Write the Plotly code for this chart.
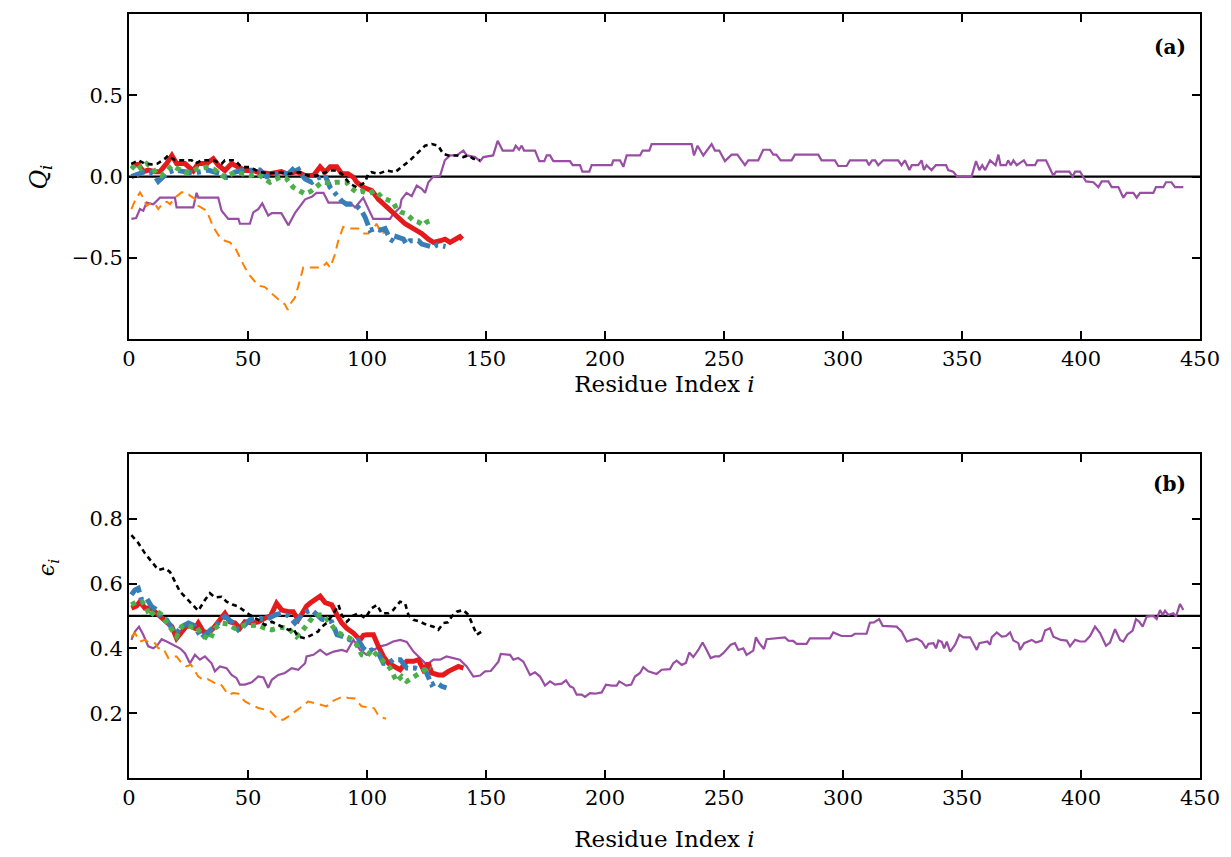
import plotly.graph_objects as go

# ---------------- data: (residue index, value) ----------------
q_red = [(1,0.07),(4,0.075),(6,0.03),(8,0.04),(11,0.03),(13,0.03),(15.8,0.08),(18,0.13),(20,0.08),(23.5,0.08),(27,0.035),(29,0.08),(32.6,0.08),(35.4,0.11),(37.5,0.07),(40.3,0.037),(43.1,0.08),(45.9,0.06),(48.7,0.037),(52.2,0.037),(54.3,0.027),(59.2,0.017),(64,0.03),(66.2,0.017),(70.4,0.03),(74,0.006),(77.5,0.006),(80.3,0.06),(82.4,0.027),(84.5,0.06),(87.3,0.06),(89.4,0.017),(92,0.017),(94.3,-0.004),(95.7,-0.035),(98.5,-0.066),(102,-0.086),(104.8,-0.14),(106.2,-0.16),(109.7,-0.21),(113.2,-0.25),(116,-0.29),(119.5,-0.32),(123,-0.35),(125.8,-0.385),(127.9,-0.405),(130.7,-0.395),(132.8,-0.385),(134.9,-0.405),(137.7,-0.385),(139,-0.37),(140,-0.385)]
q_blue = [(1,0.0),(3,0.01),(6,0.027),(9,0.027),(11,0.0),(12.3,-0.03),(14.4,-0.004),(16.5,0.027),(19.3,0.04),(22,0.03),(24.9,0.027),(27,0.02),(29.8,0.027),(33.3,0.04),(36,0.027),(38.9,0.017),(41,-0.004),(44.5,0.027),(47.3,0.037),(50.8,0.037),(55,0.04),(57.8,0.0),(61,0.017),(64,0.027),(67,0.017),(70.4,0.068),(71.8,0.027),(74,-0.015),(76.8,-0.035),(79,-0.01),(82.4,0.006),(84.5,-0.066),(87,-0.11),(89.4,-0.15),(91.4,-0.17),(95,-0.17),(97.7,-0.21),(99.2,-0.25),(101.3,-0.33),(103.4,-0.32),(105.5,-0.33),(107.6,-0.32),(109.7,-0.385),(111.8,-0.405),(112.5,-0.37),(115.3,-0.385),(116.6,-0.415),(118,-0.395),(121.6,-0.395),(123,-0.415),(127.9,-0.435),(129.5,-0.42),(131.4,-0.425),(133,-0.43)]
q_green = [(1,0.047),(3.2,0.08),(5,0.05),(7.4,0.08),(9.5,0.06),(11.6,0.017),(13.7,0.006),(15.5,0.03),(18,0.068),(20.7,0.047),(23.5,0.027),(26,0.027),(28.4,0.047),(32.6,0.058),(35.5,0.047),(38.2,0.017),(40.3,-0.004),(44.5,0.027),(48.7,0.017),(50.8,0.006),(54,0.017),(59.2,-0.035),(63.4,-0.004),(66,-0.01),(69,-0.066),(71.8,-0.086),(74,-0.107),(76.5,-0.09),(81,-0.035),(84.5,-0.04),(87,-0.035),(91.4,-0.035),(92.9,-0.066),(95.7,-0.097),(98,-0.09),(100.5,-0.107),(103.4,-0.086),(106.2,-0.127),(109,-0.148),(111,-0.158),(112.5,-0.2),(114.5,-0.22),(116.6,-0.23),(119.5,-0.27),(121.6,-0.28),(123.7,-0.30),(125,-0.28),(127.1,-0.27)]
q_orange = [(1,-0.2),(2.5,-0.15),(4.6,-0.097),(6,-0.13),(7.4,-0.18),(9.5,-0.16),(11,-0.17),(12.3,-0.2),(14.4,-0.16),(16,-0.155),(17.2,-0.17),(19.3,-0.13),(22.1,-0.097),(24.2,-0.097),(25.6,-0.117),(27.7,-0.138),(29.1,-0.18),(32.6,-0.21),(35.4,-0.31),(38.2,-0.375),(40.3,-0.395),(42.4,-0.405),(44.5,-0.435),(46.6,-0.5),(48.7,-0.56),(50.8,-0.61),(54.3,-0.67),(57.1,-0.68),(60,-0.72),(62.7,-0.755),(65.5,-0.786),(66.7,-0.82),(67.6,-0.786),(69.7,-0.745),(71.8,-0.64),(73.2,-0.56),(77.5,-0.56),(81,-0.56),(83,-0.53),(84.5,-0.56),(86.5,-0.48),(87.9,-0.395),(90,-0.31),(91.4,-0.32),(96.3,-0.32),(98.4,-0.35),(100.5,-0.35),(102.7,-0.32),(104,-0.29),(106,-0.35),(108,-0.34)]
q_black = [(1,0.078),(4,0.1),(6.5,0.08),(9.5,0.075),(12,0.08),(15.1,0.11),(16.5,0.13),(19.3,0.1),(26.3,0.1),(28,0.08),(30.5,0.1),(35.4,0.1),(38.9,0.078),(40.3,0.1),(44.5,0.1),(47.3,0.058),(50.8,0.058),(55,0.027),(59,0.02),(63.4,0.027),(67,0.017),(71.8,0.027),(75.3,0.006),(79,0.006),(84.5,0.037),(87,0.037),(89.4,0.017),(92.9,-0.045),(95.7,-0.066),(99.2,-0.035),(100.5,0.017),(101.9,0.027),(104.8,0.017),(108.3,0.037),(111.8,0.027),(114.6,0.058),(118.1,0.1),(121.6,0.15),(124.4,0.19),(127.2,0.2),(129.9,0.19),(132,0.14),(134.2,0.13),(137.7,0.13),(140.5,0.12),(142.5,0.13),(144.7,0.11),(147.5,0.1)]
q_purple = [(1,-0.26),(3,-0.255),(4.6,-0.20),(6,-0.21),(7.4,-0.16),(10.2,-0.17),(11.6,-0.15),(13,-0.13),(19.3,-0.13),(20,-0.19),(27,-0.19),(28.4,-0.10),(29.1,-0.13),(37.5,-0.13),(38.9,-0.21),(41.7,-0.26),(46,-0.26),(46.6,-0.29),(50.8,-0.29),(52.2,-0.22),(54.3,-0.20),(56,-0.165),(58.5,-0.24),(60,-0.225),(64,-0.225),(67,-0.30),(69.7,-0.225),(74,-0.14),(76.8,-0.125),(78.8,-0.10),(81.7,-0.10),(83.8,-0.16),(92.9,-0.16),(95,-0.19),(98.4,-0.13),(100.5,-0.19),(102.6,-0.26),(109.7,-0.26),(111,-0.23),(113.9,-0.19),(114.5,-0.14),(116.6,-0.10),(118.8,-0.12),(120.9,-0.055),(123,-0.075),(124.4,-0.10),(125.8,-0.035),(127.9,0.0),(130.7,0.005),(132.7,0.10),(134.9,0.13),(137.7,0.13),(140.5,0.16),(141.9,0.13),(145.4,0.12),(147.5,0.095),(148.9,0.12),(153,0.13),(154.9,0.22),(157,0.16),(161.5,0.16),(162.5,0.19),(163.9,0.165),(165,0.19),(166,0.16),(170.6,0.16),(172.4,0.095),(174.5,0.095),(175.5,0.13),(176.9,0.13),(178.3,0.095),(185.3,0.095),(186.4,0.07),(189.5,0.07),(190.5,0.03),(193.4,0.03),(194.4,0.07),(202.8,0.07),(203.5,0.10),(206.3,0.10),(207.7,0.06),(209.1,0.13),(214.7,0.13),(215.8,0.16),(218.6,0.16),(219.6,0.20),(236.4,0.20),(237.4,0.13),(238.9,0.19),(241.3,0.13),(242.7,0.16),(244.8,0.20),(246.2,0.16),(248,0.16),(250.4,0.095),(253.2,0.135),(255.6,0.135),(257.4,0.10),(258.8,0.07),(260.2,0.10),(264.4,0.10),(266.5,0.165),(269.3,0.165),(270.7,0.135),(272,0.135),(273.8,0.10),(278.4,0.10),(279.8,0.135),(289.6,0.135),(291,0.10),(296.6,0.10),(298,0.065),(301.5,0.065),(302.9,0.10),(309.9,0.10),(310.9,0.07),(312.2,0.10),(313.5,0.10),(314.8,0.07),(316.9,0.10),(323.2,0.10),(324.6,0.07),(326,0.10),(327.9,0.04),(328.9,0.07),(331.6,0.07),(333,0.10),(334,0.04),(335.1,0.07),(337.2,0.04),(339,0.07),(343.3,0.07),(344.2,0.04),(346.3,0.03),(348,0.0),(354,0.0),(355.9,0.095),(357.3,0.04),(358.5,0.07),(359.7,0.04),(361.8,0.10),(364.1,0.07),(365.3,0.135),(366.2,0.07),(368.5,0.07),(369.4,0.10),(370.5,0.07),(371.6,0.10),(373,0.07),(376,0.10),(377.2,0.07),(380.7,0.07),(381.7,0.10),(385.3,0.10),(388.4,0.005),(389.5,0.03),(395.1,0.03),(396.5,0.0),(397.5,0.03),(399.6,0.03),(402.1,-0.03),(405.2,-0.035),(407.3,-0.065),(408.7,-0.03),(411.5,-0.03),(412.9,-0.065),(415.7,-0.065),(417.8,-0.13),(419.2,-0.10),(422,-0.10),(423.4,-0.13),(424.8,-0.10),(430.4,-0.10),(431.5,-0.065),(434.6,-0.065),(435.7,-0.035),(438,-0.035),(439.5,-0.065),(443,-0.065)]

e_red = [(1,0.524),(3.2,0.531),(4.6,0.544),(6.7,0.524),(9,0.525),(11.6,0.508),(13.7,0.498),(15.8,0.482),(18,0.467),(20,0.431),(22.1,0.452),(24.2,0.469),(26,0.469),(27.7,0.462),(29.1,0.478),(31.2,0.452),(33.3,0.447),(35.4,0.462),(38.2,0.488),(40.3,0.508),(42.4,0.482),(44.5,0.478),(46.6,0.462),(48.7,0.482),(51.6,0.478),(54.3,0.482),(57.1,0.493),(59.5,0.5),(62,0.539),(64.2,0.518),(67,0.513),(69,0.513),(71.1,0.488),(72.5,0.505),(74.6,0.53),(76,0.539),(78.2,0.549),(80.3,0.561),(82.4,0.541),(85.2,0.534),(87.4,0.503),(89.4,0.478),(91.5,0.462),(94.3,0.447),(97.1,0.426),(98.5,0.44),(99.9,0.442),(102.7,0.442),(104.8,0.406),(106.9,0.375),(109,0.354),(111.8,0.344),(113.9,0.334),(116.7,0.36),(119.5,0.36),(121.6,0.365),(123.7,0.334),(125.8,0.354),(127.2,0.324),(130,0.318),(132,0.318),(134.2,0.329),(136.5,0.335),(138.4,0.344),(140.5,0.339)]
e_blue = [(1,0.565),(2.5,0.58),(3.9,0.585),(5.3,0.549),(7.4,0.554),(9.5,0.529),(11.5,0.52),(13.7,0.493),(15.8,0.488),(18,0.462),(20,0.447),(22.1,0.467),(25,0.478),(27.5,0.47),(30.5,0.431),(32.6,0.447),(35,0.462),(37.5,0.478),(40.3,0.498),(43.1,0.482),(45.9,0.457),(48,0.467),(50.8,0.488),(54.3,0.493),(58,0.49),(61.3,0.503),(64.2,0.508),(67,0.5),(69.7,0.478),(72.6,0.503),(74.6,0.513),(76.8,0.518),(78.9,0.503),(81,0.49),(85.2,0.482),(87.4,0.442),(90,0.436),(92.9,0.426),(96.3,0.426),(98.5,0.40),(100,0.39),(102,0.395),(104.8,0.385),(106.9,0.354),(109,0.354),(111,0.365),(114,0.365),(116.7,0.339),(120.2,0.339),(122,0.335),(124.4,0.334),(127.2,0.288),(129,0.295),(131.4,0.283),(133.4,0.278)]
e_green = [(1,0.534),(3.2,0.544),(5.5,0.544),(7.4,0.524),(8.8,0.498),(11,0.518),(13.5,0.505),(15.8,0.482),(18,0.457),(20,0.436),(22.1,0.467),(24.2,0.472),(26.5,0.465),(28.4,0.467),(30.5,0.442),(34,0.426),(36.1,0.462),(38.9,0.478),(41.5,0.475),(44.5,0.462),(46,0.465),(48.7,0.472),(51,0.47),(54.3,0.472),(57.1,0.462),(60,0.457),(63.5,0.465),(67,0.462),(70.4,0.436),(72.6,0.452),(75,0.475),(77.5,0.498),(80.3,0.503),(82,0.5),(84,0.482),(87.2,0.452),(89.4,0.442),(92.9,0.431),(95.7,0.411),(97.8,0.38),(99.9,0.375),(102,0.395),(104.8,0.375),(106.9,0.36),(109.7,0.339),(112.5,0.298),(114.6,0.313),(116.7,0.298),(118.8,0.308),(121,0.318),(123,0.324),(124.4,0.334),(125.8,0.344),(127,0.34)]
e_orange = [(1,0.436),(2.5,0.447),(4.6,0.421),(6.7,0.426),(8.8,0.416),(11,0.416),(12.3,0.40),(14.4,0.40),(16.5,0.37),(18.6,0.375),(20,0.375),(22.1,0.354),(24.2,0.344),(26,0.35),(29.1,0.313),(31.2,0.303),(33,0.305),(36.1,0.293),(38.5,0.29),(41.7,0.257),(43.8,0.262),(46,0.26),(48.7,0.236),(51.6,0.226),(54.3,0.216),(57.1,0.211),(59.5,0.205),(62.7,0.18),(64.9,0.18),(67,0.19),(69.7,0.206),(71.8,0.216),(75.3,0.236),(78.2,0.231),(80,0.226),(83,0.221),(85.2,0.236),(88,0.245),(90,0.252),(92.1,0.247),(95,0.245),(97.7,0.221),(100,0.218),(103,0.215),(105,0.19),(108,0.183)]
e_black = [(1,0.749),(3.9,0.725),(6.7,0.693),(9.5,0.667),(12.3,0.642),(15.1,0.647),(17.2,0.636),(19.3,0.606),(21.4,0.575),(24.2,0.554),(27,0.534),(29.1,0.516),(31.9,0.549),(34,0.57),(36.1,0.557),(38.9,0.559),(41,0.544),(43.5,0.535),(45.9,0.529),(48,0.518),(50.8,0.503),(54.3,0.488),(57.1,0.472),(60,0.482),(64.2,0.467),(67,0.457),(69,0.46),(71.1,0.436),(74,0.431),(76.8,0.442),(79.5,0.452),(80.3,0.462),(83,0.478),(86,0.508),(88,0.534),(89.4,0.503),(91.5,0.482),(94,0.5),(96.3,0.508),(99.2,0.493),(102,0.524),(104.2,0.534),(106.2,0.508),(109,0.508),(111,0.518),(113.9,0.544),(116,0.539),(117.4,0.503),(119.5,0.488),(122.3,0.482),(125.1,0.472),(127.9,0.467),(130,0.457),(132.1,0.478),(134,0.48),(135.6,0.498),(137.7,0.513),(140.5,0.518),(142.6,0.503),(144.7,0.467),(146.1,0.442),(148.2,0.452)]
e_purple = [(1,0.426),(2.5,0.452),(4.2,0.467),(6,0.442),(8.1,0.406),(10.2,0.40),(12,0.41),(13.7,0.428),(15.8,0.421),(18.6,0.411),(21.4,0.40),(23.5,0.385),(25.6,0.354),(27.7,0.38),(29.8,0.365),(31.9,0.375),(34.7,0.354),(36.1,0.329),(38.2,0.344),(41,0.339),(43.1,0.318),(45.2,0.308),(46.6,0.288),(48.7,0.288),(51.6,0.295),(54.3,0.313),(56.5,0.31),(58.5,0.278),(60,0.303),(62.7,0.318),(65.5,0.324),(68.4,0.339),(71.1,0.334),(74,0.354),(74.6,0.375),(77.5,0.38),(80.3,0.395),(83,0.38),(86,0.39),(89.4,0.395),(91.5,0.39),(94.3,0.426),(97.1,0.395),(99.9,0.38),(102.7,0.395),(105.5,0.406),(108.3,0.411),(111,0.421),(114,0.426),(116.7,0.42),(119.5,0.39),(122.3,0.37),(125.1,0.349),(127.9,0.365),(130.7,0.365),(133.4,0.375),(136.2,0.37),(139,0.365),(141.9,0.344),(144.7,0.313),(147.5,0.316),(149.6,0.329),(152,0.33),(155.2,0.359),(156.2,0.383),(160.1,0.38),(161.5,0.365),(163.5,0.37),(165.7,0.359),(168.5,0.318),(170.6,0.326),(172.7,0.313),(174.8,0.285),(176.9,0.298),(179,0.288),(181.8,0.291),(183.6,0.301),(185.3,0.283),(186.7,0.278),(188.1,0.257),(190.2,0.257),(191.6,0.25),(193.7,0.262),(195.8,0.26),(198.6,0.264),(200.4,0.288),(202.8,0.285),(204.9,0.285),(206,0.298),(209,0.285),(211,0.288),(212.6,0.313),(214.7,0.324),(216.1,0.342),(218.2,0.329),(221.7,0.321),(223.8,0.334),(227.3,0.336),(228.7,0.354),(230.1,0.362),(232.2,0.349),(234,0.355),(235.4,0.387),(237.1,0.373),(239.2,0.395),(241,0.418),(242.7,0.395),(244.4,0.37),(246.2,0.375),(248,0.375),(249.7,0.385),(252.8,0.411),(254.6,0.416),(256,0.395),(258.1,0.40),(259.5,0.38),(262.3,0.393),(263.4,0.434),(264.8,0.416),(266.8,0.398),(267.9,0.428),(272.8,0.433),(275.6,0.434),(277,0.424),(279.1,0.423),(280.5,0.414),(284.7,0.414),(286.1,0.431),(294.5,0.431),(295.9,0.449),(297.5,0.445),(299.4,0.438),(303.6,0.438),(305,0.445),(309.9,0.445),(311.3,0.479),(313,0.48),(315.2,0.49),(316.7,0.469),(322.5,0.467),(324.6,0.452),(326.8,0.421),(328.9,0.426),(331,0.43),(333.1,0.421),(334.9,0.40),(335.9,0.414),(338,0.416),(339.1,0.40),(340.1,0.424),(341.5,0.42),(342.5,0.40),(343.6,0.421),(345,0.39),(347.1,0.411),(348.9,0.442),(350.6,0.434),(353.4,0.434),(356.2,0.395),(357.3,0.416),(360.7,0.421),(361.8,0.411),(362.5,0.434),(364.6,0.449),(366.7,0.436),(368.5,0.438),(370.2,0.449),(371.6,0.424),(373.7,0.416),(374.4,0.395),(376.1,0.416),(379.3,0.426),(381.1,0.418),(383.5,0.424),(384.9,0.455),(387,0.462),(388.4,0.436),(391.5,0.426),(394,0.424),(395.4,0.406),(397.5,0.426),(399.6,0.421),(401.7,0.421),(403.8,0.438),(405.9,0.467),(408,0.447),(410.5,0.408),(412.2,0.418),(414.3,0.459),(416.4,0.426),(417.8,0.421),(419.5,0.442),(421.7,0.455),(423.1,0.49),(424.5,0.482),(425.9,0.467),(427.6,0.498),(430.4,0.50),(431.8,0.49),(433.2,0.518),(434.3,0.503),(435.3,0.516),(436.7,0.503),(438.8,0.508),(439.9,0.498),(441.6,0.537),(443,0.518)]

q_reference = 0.0
e_reference = 0.5
x_ticks = [0, 50, 100, 150, 200, 250, 300, 350, 400, 450]
q_ticks = [-0.5, 0.0, 0.5]
e_ticks = [0.2, 0.4, 0.6, 0.8]
panel_labels = ["(a)", "(b)"]

# ---------------- styles ----------------
styles = {
    "red": dict(color="#e41a1c", width=5, dash="solid"),
    "blue": dict(color="#377eb8", width=5, dash="14px,5px,4px,5px"),
    "green": dict(color="#4daf4a", width=5, dash="5px,5px"),
    "orange": dict(color="#ff7f00", width=2, dash="9px,6px"),
    "black": dict(color="#000000", width=2.6, dash="5px,4px"),
    "purple": dict(color="#984ea3", width=2.2, dash="solid"),
}
order = ["purple", "orange", "red", "blue", "green", "black"]
top_series = {"red": q_red, "blue": q_blue, "green": q_green, "orange": q_orange, "black": q_black, "purple": q_purple}
bot_series = {"red": e_red, "blue": e_blue, "green": e_green, "orange": e_orange, "black": e_black, "purple": e_purple}

fig = go.Figure()

fig.add_trace(go.Scatter(x=[0, 450], y=[q_reference, q_reference], mode="lines",
                         line=dict(color="black", width=2.2), xaxis="x", yaxis="y", showlegend=False))
fig.add_trace(go.Scatter(x=[0, 450], y=[e_reference, e_reference], mode="lines",
                         line=dict(color="black", width=2.2), xaxis="x2", yaxis="y2", showlegend=False))

for name in order:
    d = top_series[name]
    fig.add_trace(go.Scatter(x=[p[0] for p in d], y=[p[1] for p in d], mode="lines",
                             line=styles[name], xaxis="x", yaxis="y", showlegend=False))
for name in order:
    d = bot_series[name]
    fig.add_trace(go.Scatter(x=[p[0] for p in d], y=[p[1] for p in d], mode="lines",
                             line=styles[name], xaxis="x2", yaxis="y2", showlegend=False))

FONT = "DejaVu Serif"
axis_common = dict(showline=True, linecolor="black", linewidth=2, mirror="ticks",
                   ticks="inside", ticklen=8, tickwidth=1.5, tickcolor="black",
                   showgrid=False, zeroline=False,
                   tickfont=dict(family=FONT, size=21, color="black"))

def x_axis(standoff):
    return dict(axis_common, range=[0, 450], tickvals=x_ticks,
                title=dict(text="Residue Index <i>i</i>",
                           font=dict(family=FONT, size=23, color="black"), standoff=standoff))

# page body adds an 8px offset; figure sized so plot areas land where the reference has them
top_dom = [0.5744, 1.0]
bot_dom = [0.0, 0.4243]

fig.update_layout(
    width=1223, height=849,
    margin=dict(l=121, r=31, t=4, b=79),
    paper_bgcolor="white", plot_bgcolor="white",
    xaxis=dict(x_axis(4), anchor="y", domain=[0, 1]),
    yaxis=dict(axis_common, range=[-1, 1], tickvals=q_ticks, tickformat=".1f", domain=top_dom, anchor="x"),
    xaxis2=dict(x_axis(22), anchor="y2", domain=[0, 1], automargin=False),
    yaxis2=dict(axis_common, range=[0, 1], tickvals=e_ticks, tickformat=".1f", domain=bot_dom, anchor="x2"),
    annotations=[
        dict(text="<b>%s</b>" % panel_labels[0], xref="x domain", yref="y domain", x=0.989, y=0.90,
             xanchor="right", yanchor="middle", showarrow=False, font=dict(family=FONT, size=20, color="black")),
        dict(text="<b>%s</b>" % panel_labels[1], xref="x2 domain", yref="y2 domain", x=0.989, y=0.908,
             xanchor="right", yanchor="middle", showarrow=False, font=dict(family=FONT, size=20, color="black")),
        dict(text="<i>Q</i><sub><i>i</i></sub>", xref="paper", yref="paper", x=-0.083, y=0.786,
             xanchor="center", yanchor="middle", textangle=-90, showarrow=False,
             font=dict(family=FONT, size=24, color="black")),
        dict(text="<i>ϵ</i><sub><i>i</i></sub>", xref="paper", yref="paper", x=-0.075, y=0.2755,
             xanchor="center", yanchor="middle", textangle=-90, showarrow=False,
             font=dict(family=FONT, size=22, color="black")),
    ],
)

fig.write_html("out.html")
